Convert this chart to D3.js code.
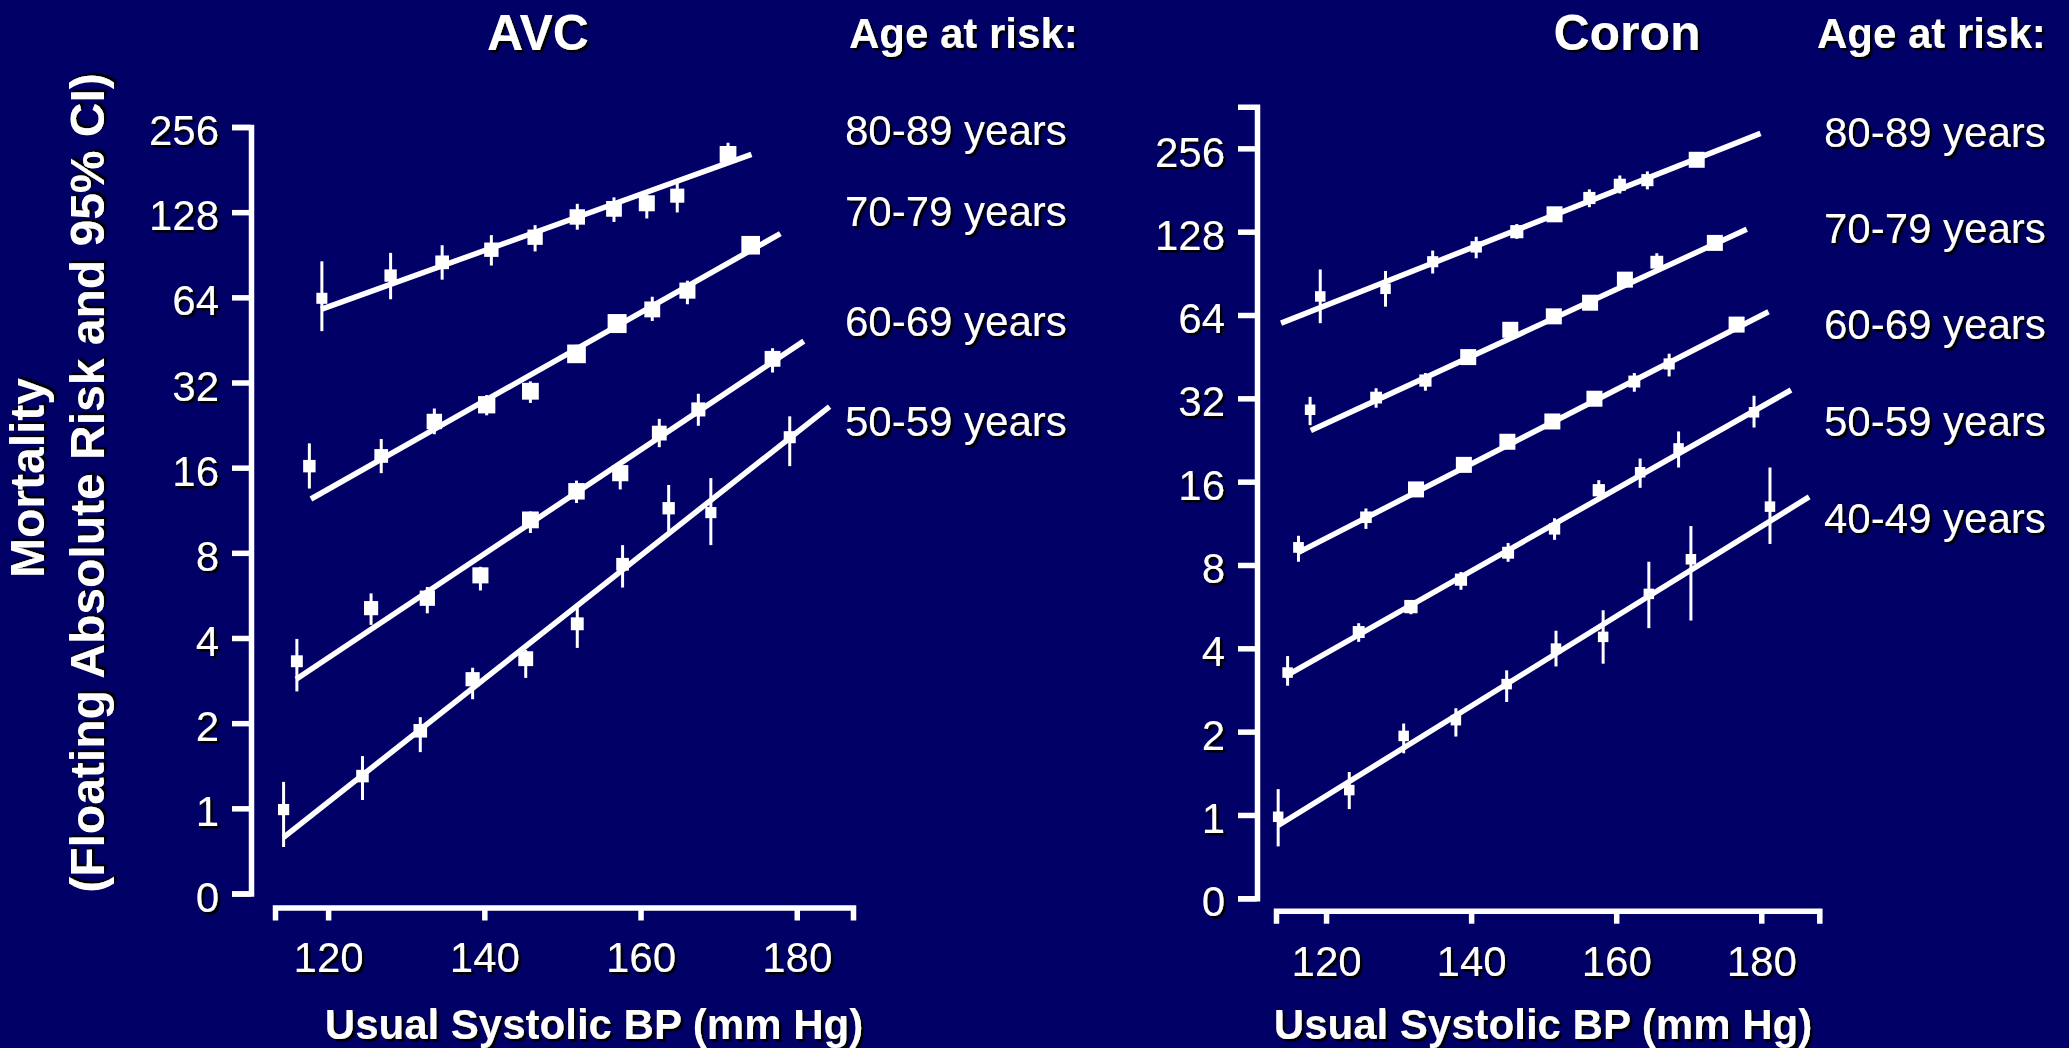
<!DOCTYPE html>
<html>
<head>
<meta charset="utf-8">
<script src="https://cdn.jsdelivr.net/npm/d3@7"></script>
<style>
  html, body { margin: 0; padding: 0; background: #000066; }
  svg { display: block; }
  text { font-family: "Liberation Sans", Arial, Helvetica, sans-serif; fill: #ffffff; }
</style>
</head>
<body>
<svg id="chart" width="2069" height="1048"></svg>
<script>
// ---- Axis ticks -------------------------------------------------------------
// Usual systolic BP ticks (mm Hg)
const bpTicks = [120, 140, 160, 180];
// Mortality ticks on a doubling scale; the bottom tick ("0") sits one doubling below 1
const riskTicks = [0.5, 1, 2, 4, 8, 16, 32, 64, 128, 256];
const riskTickLabels = ["0", "1", "2", "4", "8", "16", "32", "64", "128", "256"];

// ---- Age bands ---------------------------------------------------------------
const avcAgeGroups = ["80-89 years", "70-79 years", "60-69 years", "50-59 years"];
const coronAgeGroups = ["80-89 years", "70-79 years", "60-69 years", "50-59 years", "40-49 years"];

// ---- AVC (stroke) mortality: point estimate, 95% CI, fitted line -------------
const avc8089BP   = [119.2, 128.0, 134.6, 140.9, 146.5, 151.9, 156.6, 160.8, 164.7, 171.2];
const avc8089Risk = [63.5, 76.4, 85.1, 94.3, 104.4, 123.1, 131.5, 137.6, 146.4, 204.9];
const avc8089Lo   = [48.6, 63.0, 73.9, 82.9, 93.0, 111.0, 118.2, 121.6, 127.7, 188.7];
const avc8089Hi   = [85.8, 91.9, 97.8, 106.2, 115.2, 137.0, 144.4, 147.6, 165.5, 225.2];
const avc8089FitBP = [119.1, 174.2];
const avc8089FitRisk = [58.0, 205.0];

const avc7079BP   = [117.6, 126.8, 133.6, 140.3, 145.9, 151.8, 157.0, 161.5, 166.0, 174.1];
const avc7079Risk = [16.2, 17.6, 23.3, 26.7, 29.8, 40.4, 51.7, 58.0, 67.6, 97.8];
const avc7079Lo   = [13.5, 15.3, 21.0, 24.5, 27.1, 37.7, 48.2, 52.8, 60.5, 91.2];
const avc7079Hi   = [19.5, 20.2, 25.9, 28.9, 32.3, 43.5, 55.3, 64.3, 73.3, 105.3];
const avc7079FitBP = [117.8, 177.9];
const avc7079FitRisk = [12.4, 107.5];

const avc6069BP   = [116.0, 125.5, 132.7, 139.5, 145.9, 151.8, 157.4, 162.4, 167.4, 176.9];
const avc6069Risk = [3.31, 5.10, 5.53, 6.66, 10.46, 13.2, 15.3, 21.2, 25.7, 38.8];
const avc6069Lo   = [2.59, 4.45, 4.89, 5.89, 9.4, 12.0, 13.4, 18.9, 22.5, 34.7];
const avc6069Hi   = [3.97, 5.75, 6.06, 7.14, 11.2, 14.4, 16.2, 23.8, 29.2, 42.3];
const avc6069FitBP = [115.9, 180.9];
const avc6069FitRisk = [2.86, 44.8];

const avc5059BP   = [114.3, 124.4, 131.8, 138.5, 145.3, 151.9, 157.7, 163.6, 169.0, 179.1];
const avc5059Risk = [0.99, 1.30, 1.88, 2.86, 3.38, 4.49, 7.29, 11.5, 11.1, 20.5];
const avc5059Lo   = [0.73, 1.07, 1.58, 2.43, 2.89, 3.69, 6.03, 9.52, 8.52, 16.2];
const avc5059Hi   = [1.24, 1.53, 2.10, 3.14, 3.63, 5.14, 8.52, 13.9, 14.7, 24.3];
const avc5059FitBP = [114.3, 184.2];
const avc5059FitRisk = [0.79, 26.3];

// ---- Coronary mortality --------------------------------------------------------
const coron8089BP   = [119.2, 128.2, 134.7, 140.7, 146.3, 151.5, 156.3, 160.5, 164.3, 171.1];
const coron8089Risk = [74.7, 79.6, 99.7, 112.8, 128.0, 147.9, 169.4, 189.1, 196.5, 232.8];
const coron8089Lo   = [59.8, 68.6, 90.4, 102.6, 120.6, 142.0, 156.9, 175.9, 182.0, 224.0];
const coron8089Hi   = [93.5, 92.3, 109.4, 122.7, 136.4, 154.0, 182.0, 204.3, 211.3, 242.0];
const coron8089FitBP = [113.8, 179.9];
const coron8089FitRisk = [59.8, 290.0];

const coron7079BP   = [117.8, 126.9, 133.7, 139.6, 145.4, 151.4, 156.4, 161.2, 165.6, 173.6];
const coron7079Risk = [29.1, 32.2, 37.1, 45.1, 56.6, 63.3, 70.9, 85.9, 99.3, 116.6];
const coron7079Lo   = [25.6, 29.6, 34.1, 43.4, 54.4, 60.9, 68.2, 82.6, 94.0, 112.2];
const coron7079Hi   = [32.4, 34.8, 39.5, 46.9, 58.8, 65.8, 73.7, 89.3, 107.0, 121.2];
const coron7079FitBP = [117.9, 178.0];
const coron7079FitRisk = [24.5, 130.7];

const coron6069BP   = [116.2, 125.5, 132.4, 139.0, 145.0, 151.2, 157.0, 162.5, 167.3, 176.6];
const coron6069Risk = [9.26, 11.9, 15.0, 18.4, 22.3, 26.4, 31.9, 36.8, 42.6, 59.1];
const coron6069Lo   = [8.22, 10.8, 14.4, 17.7, 21.4, 25.4, 30.7, 33.8, 38.4, 56.8];
const coron6069Hi   = [10.2, 12.8, 15.6, 19.1, 23.2, 27.5, 33.2, 39.5, 46.4, 61.5];
const coron6069FitBP = [116.0, 181.0];
const coron6069FitRisk = [8.83, 65.8];

const coron5059BP   = [114.7, 124.5, 131.7, 138.6, 145.1, 151.5, 157.6, 163.3, 168.6, 179.0];
const coron5059Risk = [3.27, 4.58, 5.66, 7.08, 8.86, 10.8, 14.9, 17.3, 21.1, 28.5];
const coron5059Lo   = [2.93, 4.22, 5.31, 6.51, 8.22, 9.86, 14.0, 15.2, 18.0, 25.1];
const coron5059Hi   = [3.75, 4.93, 5.98, 7.55, 9.61, 11.8, 16.2, 19.4, 24.3, 32.7];
const coron5059FitBP = [114.3, 184.1];
const coron5059FitRisk = [3.16, 34.3];

const coron4049BP   = [113.4, 123.2, 130.7, 137.9, 144.9, 151.7, 158.2, 164.5, 170.3, 181.2];
const coron4049Risk = [0.985, 1.23, 1.93, 2.20, 2.97, 3.99, 4.40, 6.29, 8.39, 13.0];
const coron4049Lo   = [0.77, 1.05, 1.67, 1.92, 2.56, 3.44, 3.52, 4.73, 5.04, 9.53];
const coron4049Hi   = [1.24, 1.43, 2.14, 2.43, 3.33, 4.63, 5.49, 8.22, 11.06, 18.0];
const coron4049FitBP = [113.4, 186.6];
const coron4049FitRisk = [0.916, 14.1];

// ---- Assemble series ------------------------------------------------------------
function makeSeries(label, bp, risk, lo, hi, fitBP, fitRisk) {
  return {
    label,
    points: bp.map((b, i) => ({ bp: b, risk: risk[i], lo: lo[i], hi: hi[i] })),
    fit: fitBP.map((b, i) => ({ bp: b, risk: fitRisk[i] }))
  };
}

const avcSeries = [
  makeSeries(avcAgeGroups[0], avc8089BP, avc8089Risk, avc8089Lo, avc8089Hi, avc8089FitBP, avc8089FitRisk),
  makeSeries(avcAgeGroups[1], avc7079BP, avc7079Risk, avc7079Lo, avc7079Hi, avc7079FitBP, avc7079FitRisk),
  makeSeries(avcAgeGroups[2], avc6069BP, avc6069Risk, avc6069Lo, avc6069Hi, avc6069FitBP, avc6069FitRisk),
  makeSeries(avcAgeGroups[3], avc5059BP, avc5059Risk, avc5059Lo, avc5059Hi, avc5059FitBP, avc5059FitRisk)
];
const coronSeries = [
  makeSeries(coronAgeGroups[0], coron8089BP, coron8089Risk, coron8089Lo, coron8089Hi, coron8089FitBP, coron8089FitRisk),
  makeSeries(coronAgeGroups[1], coron7079BP, coron7079Risk, coron7079Lo, coron7079Hi, coron7079FitBP, coron7079FitRisk),
  makeSeries(coronAgeGroups[2], coron6069BP, coron6069Risk, coron6069Lo, coron6069Hi, coron6069FitBP, coron6069FitRisk),
  makeSeries(coronAgeGroups[3], coron5059BP, coron5059Risk, coron5059Lo, coron5059Hi, coron5059FitBP, coron5059FitRisk),
  makeSeries(coronAgeGroups[4], coron4049BP, coron4049Risk, coron4049Lo, coron4049Hi, coron4049FitBP, coron4049FitRisk)
];

// ---- Panel layout ----------------------------------------------------------------
const panels = [
  {
    title: "AVC", titleX: 538, headerX: 849, series: avcSeries,
    xDomain: [113.2, 187.2], xRange: [275, 853],
    yDomain: [0.5, 256], yRange: [893.5, 127],
    yAxisX: 251, xAxisY: 907.5, xTitleX: 594,
    sizeDomain: [1.2, 5], sizeRange: [11, 19],
    labelX: 845, labelY: [145, 226, 336, 436]
  },
  {
    title: "Coron", titleX: 1627, headerX: 1817, series: coronSeries,
    xDomain: [113.1, 188.0], xRange: [1276, 1819.3],
    yDomain: [0.5, 256 * Math.SQRT2], yRange: [898.3, 106.7],
    yAxisX: 1257, xAxisY: 910.7, xTitleX: 1543,
    sizeDomain: [3, 8.5], sizeRange: [10.5, 16],
    labelX: 1824, labelY: [147, 243, 339, 436, 533]
  }
];

const svg = d3.select("#chart");
const W = 2069, H = 1048;

// Dark drop shadow under all lettering
const defs = svg.append("defs");
defs.append("filter").attr("id", "txtShadow")
  .attr("x", "-10%").attr("y", "-20%").attr("width", "130%").attr("height", "150%")
  .append("feDropShadow")
  .attr("dx", 2.5).attr("dy", 2.5).attr("stdDeviation", 0.5)
  .attr("flood-color", "#000000").attr("flood-opacity", 1);

svg.append("rect").attr("width", W).attr("height", H).attr("fill", "#000066");

const AXIS_W = 5.5;

panels.forEach(p => {
  const g = svg.append("g");
  const x = d3.scaleLinear().domain(p.xDomain).range(p.xRange);
  const y = d3.scaleLog().base(2).domain(p.yDomain).range(p.yRange);
  const side = d3.scaleLinear().domain(p.sizeDomain).range(p.sizeRange).clamp(true);

  // Y axis
  const yAxis = g.append("g")
    .attr("transform", `translate(${p.yAxisX},0)`)
    .call(d3.axisLeft(y)
      .tickValues(riskTicks)
      .tickFormat(d => riskTickLabels[riskTicks.indexOf(d)])
      .tickSize(19).tickSizeOuter(19).tickPadding(13));

  // X axis
  const xAxis = g.append("g")
    .attr("transform", `translate(0,${p.xAxisY})`)
    .call(d3.axisBottom(x)
      .tickValues(bpTicks)
      .tickFormat(d3.format("d"))
      .tickSize(13).tickSizeOuter(13).tickPadding(22));

  [yAxis, xAxis].forEach(ax => {
    ax.attr("font-family", null).attr("font-size", null);
    ax.selectAll("path.domain").attr("stroke", "#fff").attr("stroke-width", AXIS_W).attr("fill", "none");
    ax.selectAll(".tick line").attr("stroke", "#fff").attr("stroke-width", AXIS_W);
    ax.selectAll(".tick text").attr("fill", "#fff").style("font-size", "42px")
      .attr("filter", "url(#txtShadow)");
  });
  yAxis.selectAll(".tick text").attr("dy", "0.42em");

  // Fitted lines
  const line = d3.line().x(d => x(d.bp)).y(d => y(d.risk));
  g.selectAll("path.fit").data(p.series).join("path")
    .attr("class", "fit")
    .attr("d", s => line(s.fit))
    .attr("fill", "none").attr("stroke", "#fff").attr("stroke-width", 5.5);

  // Confidence intervals and point estimates
  const allPts = p.series.flatMap(s => s.points);
  g.selectAll("line.ci").data(allPts).join("line")
    .attr("class", "ci")
    .attr("x1", d => x(d.bp)).attr("x2", d => x(d.bp))
    .attr("y1", d => y(d.lo)).attr("y2", d => y(d.hi))
    .attr("stroke", "#fff").attr("stroke-width", 3);

  g.selectAll("rect.est").data(allPts).join("rect")
    .attr("class", "est")
    .each(function (d) {
      const s = side(1 / Math.log2(d.hi / d.lo));
      d3.select(this)
        .attr("x", x(d.bp) - s / 2).attr("y", y(d.risk) - s / 2)
        .attr("width", s).attr("height", s);
    })
    .attr("fill", "#fff");

  // Titles and age band labels
  g.append("text").attr("x", p.titleX).attr("y", 50)
    .attr("text-anchor", "middle").style("font-size", "50px").style("font-weight", "bold")
    .attr("filter", "url(#txtShadow)").text(p.title);
  g.append("text").attr("x", p.headerX).attr("y", 48)
    .style("font-size", "42px").style("font-weight", "bold")
    .attr("filter", "url(#txtShadow)").text("Age at risk:");

  g.selectAll("text.age").data(p.series).join("text")
    .attr("class", "age")
    .attr("x", p.labelX).attr("y", (s, i) => p.labelY[i])
    .style("font-size", "42px")
    .attr("filter", "url(#txtShadow)").text(s => s.label);

  g.append("text").attr("x", p.xTitleX).attr("y", 1039)
    .attr("text-anchor", "middle").style("font-size", "42px").style("font-weight", "bold")
    .attr("filter", "url(#txtShadow)").text("Usual Systolic BP (mm Hg)");
});

// Shared y-axis title
const yTitle = [
  { text: "Mortality", x: 44, y: 478 },
  { text: "(Floating Absolute Risk and 95% CI)", x: 104, y: 483 }
];
svg.selectAll("text.ytitle").data(yTitle).join("text")
  .attr("class", "ytitle")
  .attr("transform", d => `translate(${d.x},${d.y}) rotate(-90)`)
  .attr("text-anchor", "middle")
  .style("font-size", "48px").style("font-weight", "bold")
  .attr("filter", "url(#txtShadow)")
  .text(d => d.text);
</script>
</body>
</html>
